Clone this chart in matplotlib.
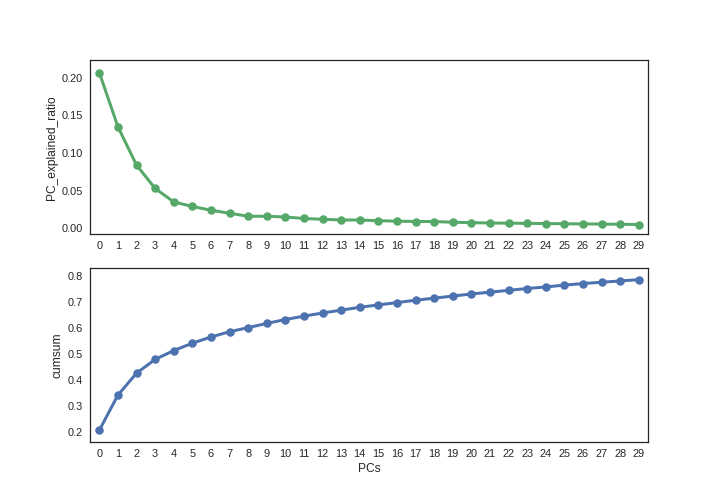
import numpy as np
import matplotlib
matplotlib.use('Agg')
import matplotlib.pyplot as plt
import seaborn as sns

pcs = list(range(30))
pc_ratio = [0.207, 0.135, 0.084, 0.053, 0.035, 0.029, 0.024, 0.020, 0.016, 0.016,
            0.015, 0.013, 0.012, 0.011, 0.011, 0.010, 0.0095, 0.009, 0.009, 0.008,
            0.0075, 0.007, 0.0068, 0.0065, 0.0063, 0.006, 0.0058, 0.0056, 0.0053, 0.005]
cumsum = [0.207, 0.342, 0.426, 0.479, 0.513, 0.541, 0.565, 0.585, 0.601, 0.617,
          0.632, 0.645, 0.657, 0.668, 0.679, 0.688, 0.697, 0.706, 0.714, 0.722,
          0.730, 0.737, 0.744, 0.751, 0.757, 0.764, 0.770, 0.775, 0.780, 0.785]

sns.set_style('white')
plt.rcParams['font.family'] = ['Liberation Sans', 'DejaVu Sans']
plt.rcParams['xtick.major.pad'] = 7
plt.rcParams['ytick.major.pad'] = 7

green = '#55A868'
blue = '#4C72B0'

fig, (ax1, ax2) = plt.subplots(2, 1, figsize=(10, 7), dpi=72)
fig.subplots_adjust(bottom=0.123, top=0.88, hspace=0.195)

# explained ratio per PC
ax1.plot(pcs, pc_ratio, color=green, lw=3.0, zorder=2)
ax1.scatter(pcs, pc_ratio, color=green, s=72, zorder=3, linewidths=0)
ax1.set_xlim(-0.5, 29.5)
ax1.set_ylim(-0.008, 0.223)
ax1.set_yticks([0.0, 0.05, 0.10, 0.15, 0.20])
ax1.set_xticks(pcs)
ax1.set_ylabel('PC_explained_ratio', fontsize=12)

# cumulative sum
ax2.plot(pcs, cumsum, color=blue, lw=3.0, zorder=2)
ax2.scatter(pcs, cumsum, color=blue, s=72, zorder=3, linewidths=0)
ax2.set_xlim(-0.5, 29.5)
ax2.set_ylim(0.162, 0.829)
ax2.set_yticks([0.2, 0.3, 0.4, 0.5, 0.6, 0.7, 0.8])
ax2.set_xticks(pcs)
ax2.set_ylabel('cumsum', fontsize=12)
ax2.set_xlabel('PCs', fontsize=12)

for ax in (ax1, ax2):
    ax.tick_params(labelsize=11, colors='.15', length=0)
    for s in ax.spines.values():
        s.set_color('.15')
        s.set_linewidth(1.25)

plt.savefig('out.png', dpi=72)
